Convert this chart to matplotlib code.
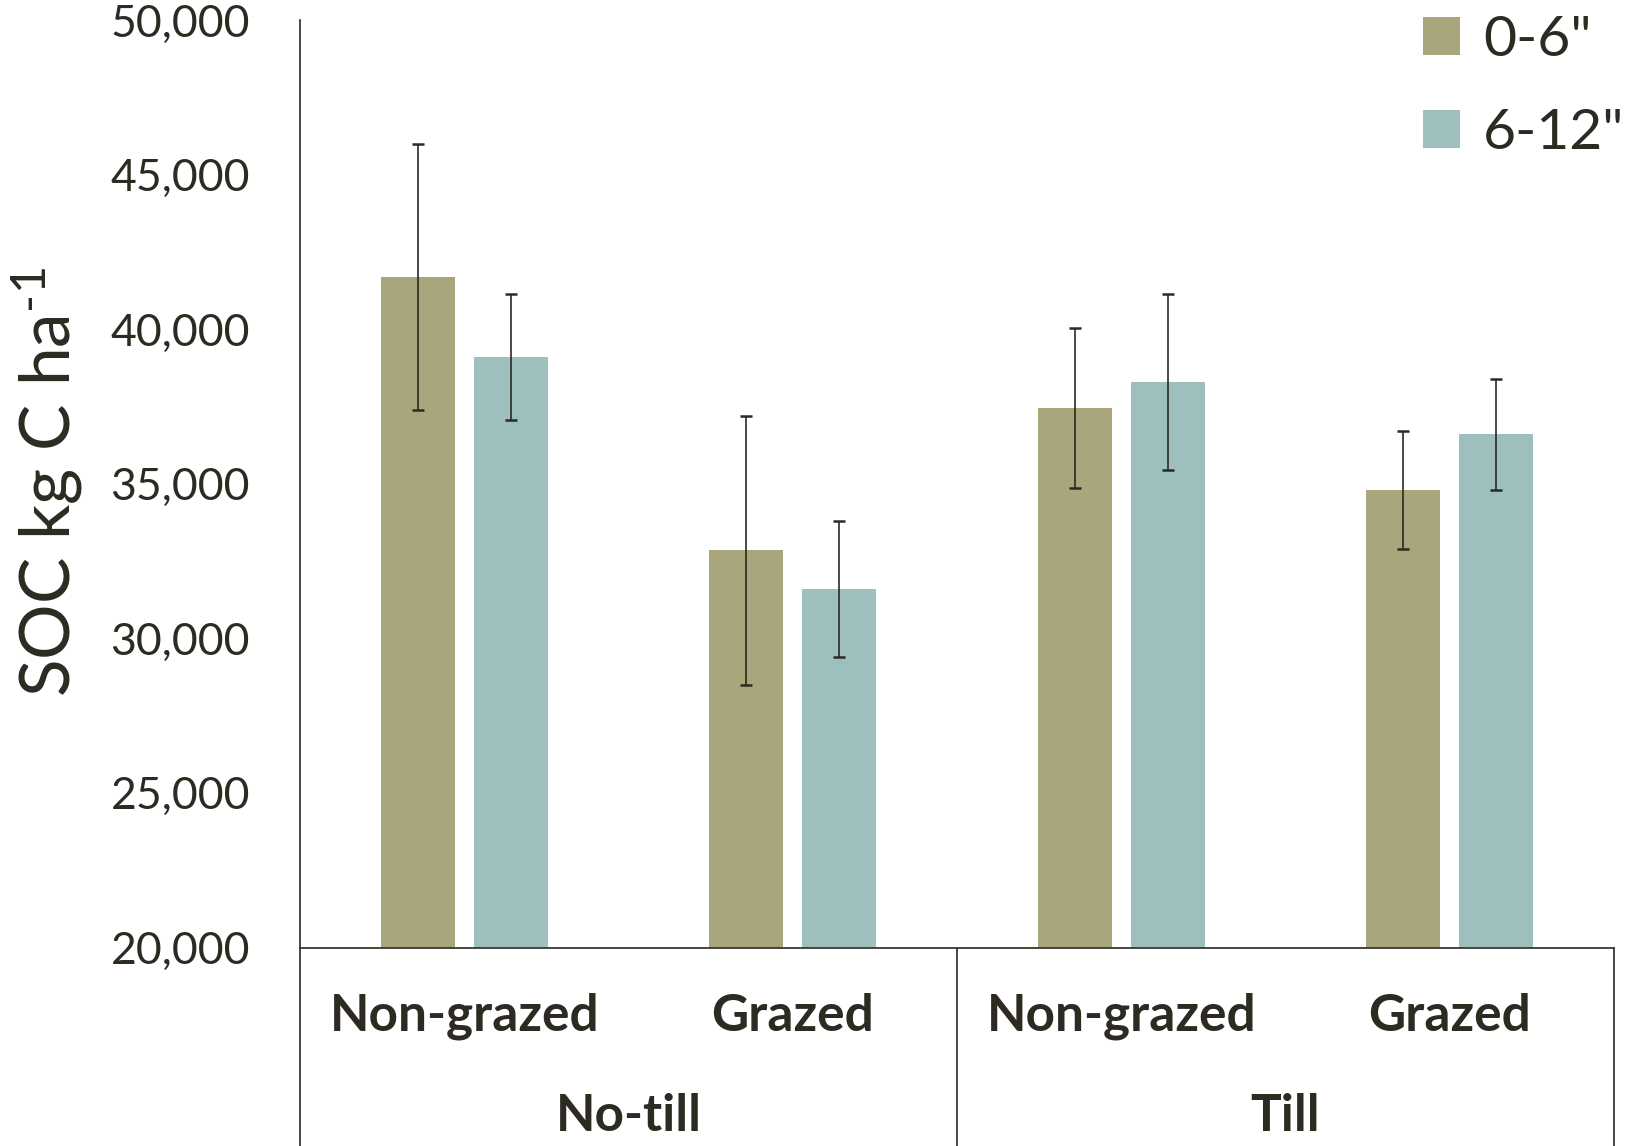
import matplotlib
matplotlib.use('Agg')
import matplotlib.pyplot as plt
import matplotlib.transforms as mtransforms
from matplotlib.ticker import FuncFormatter, MultipleLocator
import numpy as np

# soil organic carbon by management, two sampling depths
groups = ['No-till', 'Till']
treatments = ['Non-grazed', 'Grazed', 'Non-grazed', 'Grazed']
soc_0_6 = [41700, 32850, 37450, 34800]
err_0_6 = [4300, 4350, 2600, 1900]
soc_6_12 = [39100, 31600, 38300, 36600]
err_6_12 = [2050, 2200, 2850, 1800]
depth_labels = ['0-6"', '6-12"']

olive = '#a9a67c'
teal = '#9dbfbe'
ink = '#2d2a22'
plt.rcParams['font.family'] = ['Lato', 'DejaVu Sans']
plt.rcParams['mathtext.fontset'] = 'custom'
plt.rcParams['mathtext.rm'] = 'Lato'

fig = plt.figure(figsize=(16.38, 11.46), dpi=100)
ax = fig.add_axes([0.1832, 0.1732, 0.8021, 0.8093])

x = np.arange(len(treatments))
w = 0.225
off = 0.142
b1 = ax.bar(x - off, np.array(soc_0_6) - 20000, w, bottom=20000, color=olive, label=depth_labels[0])
b2 = ax.bar(x + off, np.array(soc_6_12) - 20000, w, bottom=20000, color=teal, label=depth_labels[1])
ax.errorbar(x - off, soc_0_6, yerr=err_0_6, fmt='none', ecolor=ink, elinewidth=1.2, capsize=4.5, capthick=1.8)
ax.errorbar(x + off, soc_6_12, yerr=err_6_12, fmt='none', ecolor=ink, elinewidth=1.2, capsize=4.5, capthick=1.8)

ax.set_xlim(-0.5, 3.5)
ax.set_ylim(20000, 50000)
ax.yaxis.set_major_locator(MultipleLocator(5000))
ax.yaxis.set_major_formatter(FuncFormatter(lambda v, p: '{:,.0f}'.format(v)))
ax.tick_params(axis='y', length=0, pad=36, labelsize=32, labelcolor=ink)
ax.set_xticks([])

for s in ['top', 'right']:
    ax.spines[s].set_visible(False)
for s in ['left', 'bottom']:
    ax.spines[s].set_color('#3a3830')
    ax.spines[s].set_linewidth(1.3)

fig.text(47 / 1638, 1 - 482 / 1146, r'SOC kg C ha$\mathregular{^{\text{-}1}}$', rotation=90,
         ha='center', va='center', fontsize=50, color=ink)

# grouped category table under the axis
trans = mtransforms.blended_transform_factory(ax.transData, ax.transAxes)
for xv in [-0.5, 1.5, 3.5]:
    ax.plot([xv, xv], [0, -0.22], transform=trans, color='#3a3830', lw=1.3, clip_on=False)
for xi, t in zip(x, treatments):
    ax.text(xi, -0.074, t, transform=trans, ha='center', va='center',
            fontsize=37, fontweight='bold', color=ink)
for gi, g in enumerate(groups):
    ax.text(0.5 + 2 * gi, -0.182, g, transform=trans, ha='center', va='center',
            fontsize=37, fontweight='bold', color=ink)

leg = fig.legend(handles=[b1, b2], loc='upper right', bbox_to_anchor=(1.023, 1.032),
                 frameon=False, fontsize=41, handlelength=0.65, handleheight=0.65,
                 handletextpad=0.4, labelspacing=0.75, labelcolor=ink)

fig.savefig('out.png', dpi=100)
